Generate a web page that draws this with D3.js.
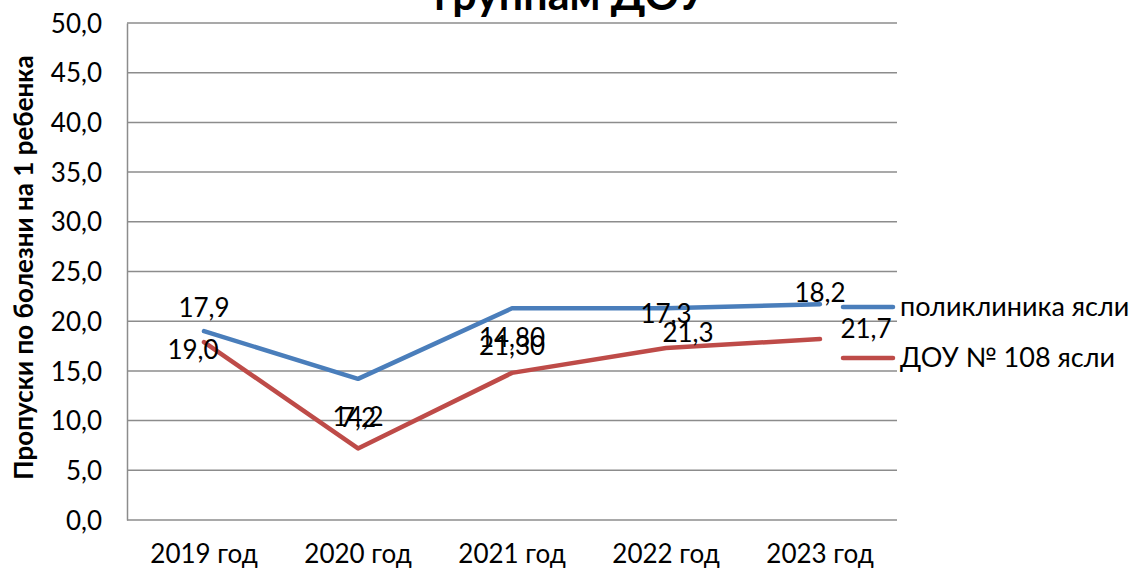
<!DOCTYPE html>
<html>
<head>
<meta charset="utf-8">
<script src="https://cdn.jsdelivr.net/npm/d3@7"></script>
<style>
  body { margin: 0; background: #fff; }
  text { font-family: Lato, "Open Sans", sans-serif; fill: #000; }
</style>
</head>
<body>
<div id="chart-area"></div>
<script>
// data
let years = ["2019 год", "2020 год", "2021 год", "2022 год", "2023 год"];
let poliklinika = [19.0, 14.2, 21.3, 21.3, 21.7];
let dou108 = [17.9, 7.2, 14.8, 17.3, 18.2];
let poliklinikaLabels = ["19,0", "14,2", "21,30", "21,3", "21,7"];
let dou108Labels = ["17,9", "7,2", "14,80", "17,3", "18,2"];
let yTicks = [0, 5, 10, 15, 20, 25, 30, 35, 40, 45, 50];

// label offsets in px from each point (as placed in the original)
let poliklinikaLabelOffset = [[-11, 19], [0, 38], [0, 38], [22, 25], [46, 25]];
let dou108LabelOffset = [[0, -34], [0, -31], [0, -35], [0, -34], [0, -46]];

let margin = { left: 127, right: 235, top: 23, bottom: 54 };
let width = 1132 - margin.left - margin.right;
let height = 574 - margin.top - margin.bottom;

let svg = d3.select("#chart-area")
  .append("svg")
  .attr("width", 1132)
  .attr("height", 574);

let g = svg.append("g")
  .attr("transform", "translate(" + margin.left + "," + margin.top + ")");

let x = d3.scaleBand()
  .domain(years)
  .range([0, width]);

let y = d3.scaleLinear()
  .domain([0, 50])
  .range([height, 0]);

let fmt = d => d3.format(".1f")(d).replace(".", ",");

// gridlines
g.append("g")
  .selectAll("line")
  .data(yTicks)
  .enter()
  .append("line")
  .attr("x1", 0)
  .attr("x2", width)
  .attr("y1", d => y(d))
  .attr("y2", d => y(d))
  .attr("stroke", "#8c8c8c")
  .attr("stroke-width", 1.5);

// y axis
let yAxisCall = d3.axisLeft(y)
  .tickValues(yTicks)
  .tickFormat(fmt)
  .tickSize(0)
  .tickPadding(25);

let yAxis = g.append("g")
  .attr("class", "y-axis")
  .call(yAxisCall);
yAxis.select(".domain").attr("stroke", "#8c8c8c").attr("stroke-width", 1.5);
yAxis.selectAll("text")
  .attr("font-size", "26px")
  .attr("dy", "0.35em");

// x axis
let xAxisCall = d3.axisBottom(x).tickSize(0).tickPadding(25);
let xAxis = g.append("g")
  .attr("class", "x-axis")
  .attr("transform", "translate(0," + height + ")")
  .call(xAxisCall);
xAxis.select(".domain").remove();
xAxis.selectAll("text").attr("font-size", "26px");

// lines
let line = d3.line()
  .x((d, i) => x(years[i]) + x.bandwidth() / 2)
  .y(d => y(d));

g.append("path")
  .datum(poliklinika)
  .attr("d", line)
  .attr("fill", "none")
  .attr("stroke", "#4a7ebb")
  .attr("stroke-width", 4.5)
  .attr("stroke-linecap", "round")
  .attr("stroke-linejoin", "round");

g.append("path")
  .datum(dou108)
  .attr("d", line)
  .attr("fill", "none")
  .attr("stroke", "#be4b48")
  .attr("stroke-width", 4.5)
  .attr("stroke-linecap", "round")
  .attr("stroke-linejoin", "round");

// data labels
function addLabels(values, labels, offsets) {
  g.append("g")
    .selectAll("text")
    .data(values)
    .enter()
    .append("text")
    .attr("x", (d, i) => x(years[i]) + x.bandwidth() / 2 + offsets[i][0])
    .attr("y", (d, i) => y(d) + offsets[i][1])
    .attr("dy", "0.35em")
    .attr("text-anchor", "middle")
    .attr("font-size", "26px")
    .text((d, i) => labels[i]);
}
addLabels(dou108, dou108Labels, dou108LabelOffset);
addLabels(poliklinika, poliklinikaLabels, poliklinikaLabelOffset);

// y label
svg.append("text")
  .attr("transform", "translate(24," + (margin.top + height / 2 - 4) + ") rotate(-90)")
  .attr("text-anchor", "middle")
  .attr("dy", "0.35em")
  .attr("font-size", "26px")
  .attr("font-weight", "bold")
  .text("Пропуски по болезни на 1 ребенка");

// title (top part cut off in the original)
svg.append("text")
  .attr("x", 570)
  .attr("y", 10)
  .attr("text-anchor", "middle")
  .attr("font-size", "43px")
  .attr("font-weight", "bold")
  .text("группам ДОУ");

// legend
let legend = [
  { name: "поликлиника ясли", color: "#4a7ebb", y: 307 },
  { name: "ДОУ № 108 ясли", color: "#be4b48", y: 358 }
];
let lg = svg.append("g");
legend.forEach(l => {
  lg.append("line")
    .attr("x1", 843).attr("x2", 893)
    .attr("y1", l.y).attr("y2", l.y)
    .attr("stroke", l.color)
    .attr("stroke-width", 4.5)
    .attr("stroke-linecap", "round");
  lg.append("text")
    .attr("x", 900)
    .attr("y", l.y)
    .attr("dy", "0.35em")
    .attr("font-size", "27px")
    .text(l.name);
});
</script>
</body>
</html>
